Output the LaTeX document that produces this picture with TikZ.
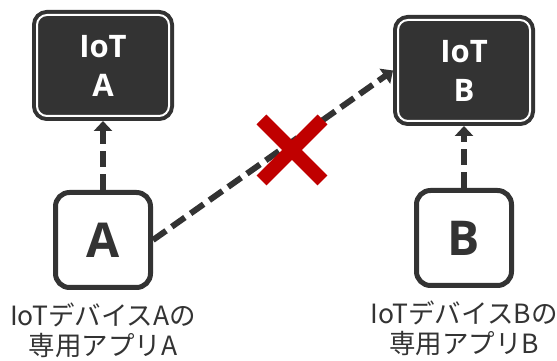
\documentclass[tikz,border=0pt]{standalone}
\usepackage{fontspec}
\setmainfont{Noto Sans CJK JP}
\newfontfamily\iotfont{Open Sans}
\usetikzlibrary{arrows.meta,positioning}
\definecolor{darkbox}{HTML}{333333}
\definecolor{ngred}{HTML}{C00000}

\begin{document}
\begin{tikzpicture}[x=1pt,y=1pt,
device/.style={draw=darkbox,fill=darkbox,double=white,line width=4pt,double distance=2pt,rounded corners=10pt,minimum width=132pt,minimum height=101pt,outer sep=5pt,text=white,align=center,font=\iotfont\bfseries\fontsize{31}{39}\selectfont},
app/.style={draw=darkbox,fill=white,line width=5pt,rounded corners=14pt,minimum size=95pt,text=darkbox,font=\iotfont\bfseries\fontsize{48}{48}\selectfont},
caption/.style={align=center,text=darkbox,inner sep=0pt,font=\fontsize{26.5}{30}\selectfont},
link/.style={draw=darkbox,line width=6pt,dash pattern=on 16pt off 7pt,-{Triangle[width=18pt,length=10pt]}},
cross/.style={draw=ngred,line width=14pt}]
\useasboundingbox (0,0) rectangle (557,361);
% one column per device: device box, its app and the caption below
\foreach \s/\x/\iy/\ay in %
{A/103/295.5/121,B/464/290.5/123} {
   \node[device] (iot\s) at (\x,\iy) {IoT\\\s};
   \node[app] (app\s) at (\x,\ay) {\s};
   \node[caption,below=13pt of app\s] (lab\s) {IoTデバイス{\s}の\\専用アプリ{\s}};
   \draw[link] (app\s.north) -- (iot\s.south);
}
\draw[link] (appA.east) -- (iotB.west);
% the red cross over the A-to-B link
\coordinate (ng) at (292,211);
\draw[cross] ([shift={(-30.5,-30.5)}]ng) -- ([shift={(30.5,30.5)}]ng);
\draw[cross] ([shift={(-30.5,30.5)}]ng) -- ([shift={(30.5,-30.5)}]ng);
\end{tikzpicture}
\end{document}
